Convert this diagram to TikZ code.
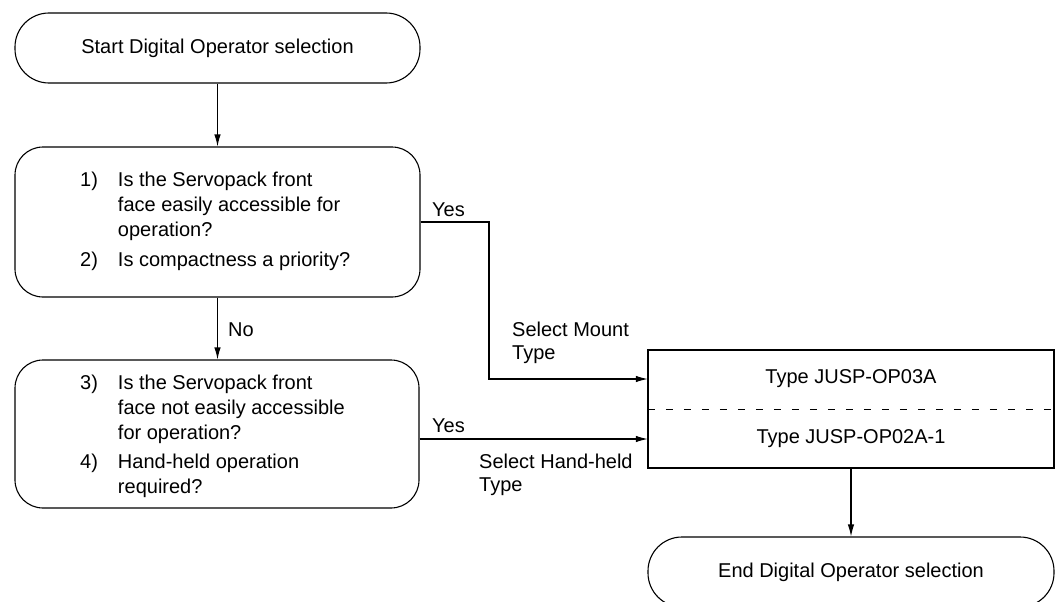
\documentclass[tikz,border=0pt]{standalone}
\usepackage{fontspec}
\setmainfont{Liberation Sans}
\usetikzlibrary{arrows.meta}
\newcommand\fs{\fontsize{20}{25}\selectfont}
\newcommand\fsl{\fontsize{20}{23}\selectfont}
\begin{document}
\begin{tikzpicture}[x=1pt,y=-1pt,
  every node/.style={font=\fs},
  term/.style={draw, line width=1.1pt, rounded corners=34pt, minimum height=70pt, inner sep=0pt},
  decision/.style={draw, line width=1.1pt, rounded corners=28pt, inner sep=0pt},
  txt/.style={inner sep=0pt},
  conn/.style={line width=1.1pt, -{Latex[length=12pt,width=6.5pt]}},
  line/.style={line width=1.1pt}]
\useasboundingbox (0,0) rectangle (1060,602);
\clip (0,0) rectangle (1060,602);

% terminals
\node[term, minimum width=405pt] (start) at (217.5,48) {Start Digital Operator selection};
\node[term, minimum width=406pt] (end) at (851,572) {End Digital Operator selection};

% decisions
\node[decision, minimum width=405pt, minimum height=150pt] (dec1) at (217.5,222) {};
\node[txt, anchor=north west] (q1) at (80,168.5) {\begin{tabular}{@{}l@{\hspace{20pt}}l@{}}1) & Is the Servopack front\\ & face easily accessible for\\ & operation?\\[5pt] 2) & Is compactness a priority?\end{tabular}};

\node[decision, minimum width=404pt, minimum height=148pt] (dec2) at (217,434) {};
\node[txt, anchor=north west] (q2) at (80,371.5) {\begin{tabular}{@{}l@{\hspace{20pt}}l@{}}3) & Is the Servopack front\\ & face not easily accessible\\ & for operation?\\[4pt] 4) & Hand-held operation\\ & required?\end{tabular}};

% result box
\node[draw, line width=1.1pt, minimum width=406pt, minimum height=118pt, inner sep=0pt] (box) at (851,409) {};
\node[txt, minimum width=406pt, minimum height=60pt] (opa) at (851,379) {Type JUSP-OP03A};
\node[txt, minimum width=406pt, minimum height=58pt] (opb) at (851,439) {Type JUSP-OP02A-1};
\draw[line, dash pattern=on 7pt off 11pt] (opa.south west) -- (opa.south east);

% connectors
\draw[conn] (start) -- (dec1);
\draw[conn] (dec1.south) -- (dec1.south |- dec2.north);
\coordinate (turn1) at (489,222);
\draw[conn] (dec1.east) -- (turn1) |- (opa.west);
\draw[conn] (dec2.east |- opb.west) -- (opb.west);
\draw[conn] (box) -- (end);

% labels
\node[txt, anchor=base west] (yes1) at (432,216) {Yes};
\node[txt, anchor=base west] (no) at (228,336) {No};
\node[txt, anchor=north west] (mnt) at (512,320) {\fsl\begin{tabular}{@{}l@{}}Select Mount\\Type\end{tabular}};
\node[txt, anchor=base west] (yes2) at (432,432) {Yes};
\node[txt, anchor=north west] (hh) at (479,452) {\fsl\begin{tabular}{@{}l@{}}Select Hand-held\\Type\end{tabular}};
\end{tikzpicture}
\end{document}
